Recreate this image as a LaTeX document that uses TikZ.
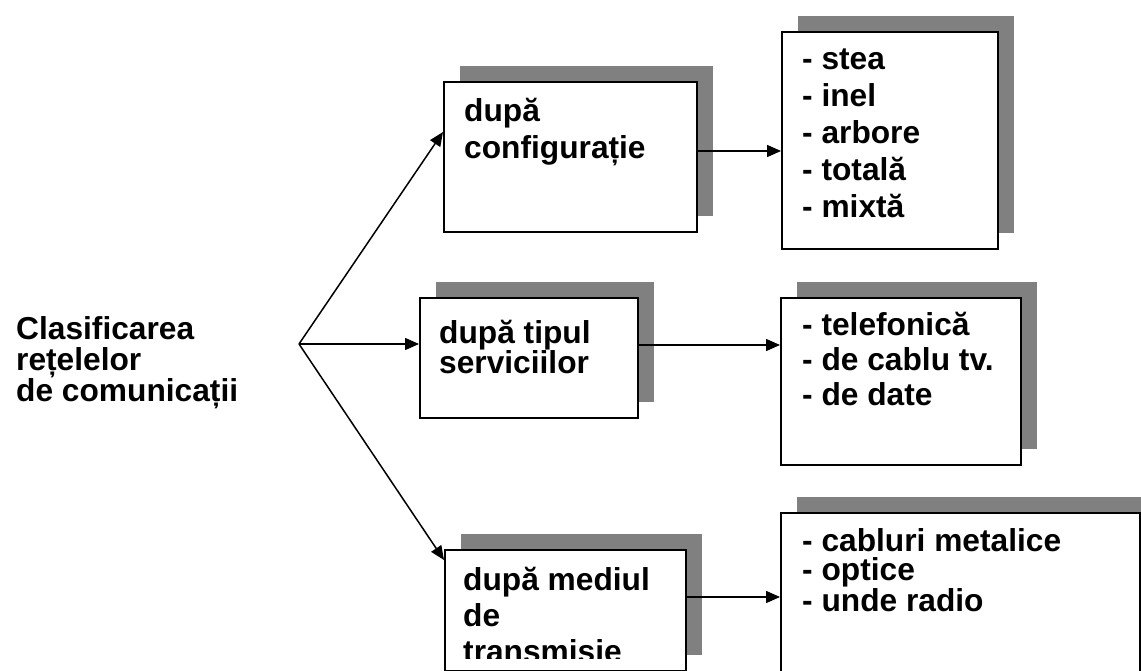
\documentclass[tikz,border=0pt]{standalone}
\usepackage{fontspec}
\setmainfont{Liberation Sans}
\usetikzlibrary{arrows.meta,shadows}

\tikzset{
  box/.style={draw=black, fill=white, line width=1.6pt, inner sep=0pt,
    anchor=north west,
    drop shadow={shadow xshift=16pt, shadow yshift=16pt, fill=black!50, opacity=1}},
  txt/.style={anchor=base west, align=left, inner sep=0pt},
  arr/.style={line width=1.5pt, -{Triangle[length=14pt,width=12pt]}}
}
% bold text at a common size with a given line pitch
\newcommand{\boxfont}[1]{\fontsize{31.7pt}{#1}\selectfont\bfseries}

\begin{document}
\begin{tikzpicture}[x=1pt,y=-1pt]
\useasboundingbox (0,0) rectangle (1141,671);

% category boxes
\node[box, minimum width=253pt, minimum height=150pt] (b1) at (443,81) {};
\node[box, minimum width=218pt, minimum height=120pt] (b2) at (419,297) {};
\node[box, minimum width=241pt, minimum height=121pt] (b3) at (444,549) {};

% detail boxes
\node[box, minimum width=216pt, minimum height=217pt] (b4) at (781,31) {};
\node[box, minimum width=240pt, minimum height=167pt] (b5) at (780,297) {};
\node[box, minimum width=359pt, minimum height=200pt] (b6) at (780,512) {};

% title and source point (node anchored at the baseline of its last line)
\node[txt, font=\boxfont{31pt}] (title) at (16,401)
  {Clasificarea\\rețelelor\\de comunicații};
\coordinate (src) at (299,344);

% box texts
\node[txt, font=\boxfont{37pt}] (t1) at (464,159) {după\\configurație};
\node[txt, font=\boxfont{30pt}] (t2) at (439,373) {după tipul\\serviciilor};
\begin{scope}
  \clip (444,549) rectangle (685,658);
  \node[txt, font=\boxfont{36pt}] (t3) at (463,662) {după mediul\\de\\transmisie};
\end{scope}
\node[txt, font=\boxfont{37pt}] (t4) at (802,218)
  {- stea\\- inel\\- arbore\\- totală\\- mixtă};
\node[txt, font=\boxfont{35pt}] (t5) at (802,405)
  {- telefonică\\- de cablu tv.\\- de date};
\node[txt, font=\boxfont{29pt}] (t6) at (802,611)
  {- cabluri metalice\\- optice\\- unde radio};

% connectors
\draw[arr] (src) -- (b1.west |- 0,132);
\draw[arr] (src) -- (b2.west |- 0,344);
\draw[arr] (src) -- (b3.west |- 0,560);
\draw[arr] (b1.east |- 0,151) -- (b4.west |- 0,151);
\draw[arr] (b2.east |- 0,345) -- (b5.west |- 0,345);
\draw[arr] (b3.east |- 0,597) -- (b6.west |- 0,597);
\end{tikzpicture}
\end{document}
